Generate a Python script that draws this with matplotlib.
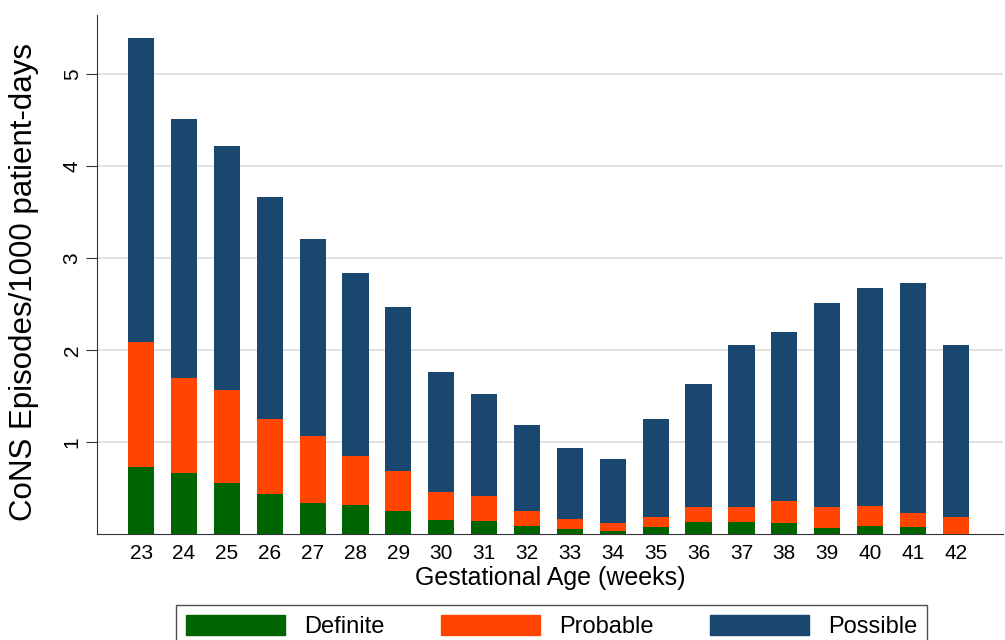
import numpy as np
import matplotlib
matplotlib.use("Agg")
import matplotlib.pyplot as plt
from matplotlib.patches import Patch

plt.rcParams['font.family'] = ['Liberation Sans', 'DejaVu Sans']

# incidence by gestational age, split by case definition
weeks = [23, 24, 25, 26, 27, 28, 29, 30, 31, 32, 33, 34, 35, 36, 37, 38, 39, 40, 41, 42]
definite_top = [0.73, 0.66, 0.55, 0.44, 0.34, 0.32, 0.25, 0.155, 0.145, 0.085,
                0.05, 0.035, 0.075, 0.13, 0.13, 0.115, 0.06, 0.09, 0.075, 0.0]
probable_top = [2.09, 1.70, 1.56, 1.25, 1.06, 0.85, 0.68, 0.46, 0.41, 0.245,
                0.16, 0.12, 0.185, 0.29, 0.29, 0.355, 0.29, 0.30, 0.225, 0.185]
possible_top = [5.39, 4.51, 4.22, 3.66, 3.21, 2.84, 2.47, 1.76, 1.52, 1.19,
                0.93, 0.82, 1.25, 1.625, 2.05, 2.19, 2.51, 2.67, 2.73, 2.05]

definite = np.array(definite_top)
probable = np.array(probable_top) - definite
possible = np.array(possible_top) - np.array(probable_top)

c_def = '#006400'
c_prob = '#ff4500'
c_poss = '#1a476f'

fig = plt.figure(figsize=(10.05, 6.4), dpi=100)
ax = fig.add_axes([0.0965, 0.1656, 0.9015, 0.811])

w = 0.61
ax.bar(weeks, definite, width=w, color=c_def, zorder=3)
ax.bar(weeks, probable, width=w, bottom=definite, color=c_prob, zorder=3)
ax.bar(weeks, possible, width=w, bottom=definite + probable, color=c_poss, zorder=3)

ax.set_xlim(21.97, 43.1)
ax.set_ylim(0, 5.64)
ax.set_yticks([1, 2, 3, 4, 5])
ax.set_xticks(weeks)
ax.yaxis.grid(True, color='#dcdcdc', linewidth=1.2, zorder=0)
ax.tick_params(axis='y', labelsize=15, rotation=90, length=8, color='#333333', pad=3)
ax.tick_params(axis='x', labelsize=15, length=0, pad=7)
for lab in ax.get_yticklabels():
    lab.set_va('center')

for s in ['top', 'right']:
    ax.spines[s].set_visible(False)
ax.spines['left'].set_color('#333333')
ax.spines['bottom'].set_color('#333333')

ax.set_xlabel('Gestational Age (weeks)', fontsize=18, labelpad=2)
ax.set_ylabel('CoNS Episodes/1000 patient-days', fontsize=22.5)
ax.yaxis.set_label_coords(-0.064, 0.486)

handles = [Patch(color=c_def, label='Definite'),
           Patch(color=c_prob, label='Probable'),
           Patch(color=c_poss, label='Possible')]
leg = fig.legend(handles=handles, loc='upper center', bbox_to_anchor=(0.549, 0.0547),
                 ncol=3, fontsize=17, frameon=True, fancybox=False, borderaxespad=0,
                 handlelength=4.2, handleheight=0.93, columnspacing=2.4, handletextpad=0.8,
                 borderpad=0.42)
leg.get_frame().set_edgecolor('#222222')
leg.get_frame().set_linewidth(1.0)

fig.savefig('out.png', dpi=100)
